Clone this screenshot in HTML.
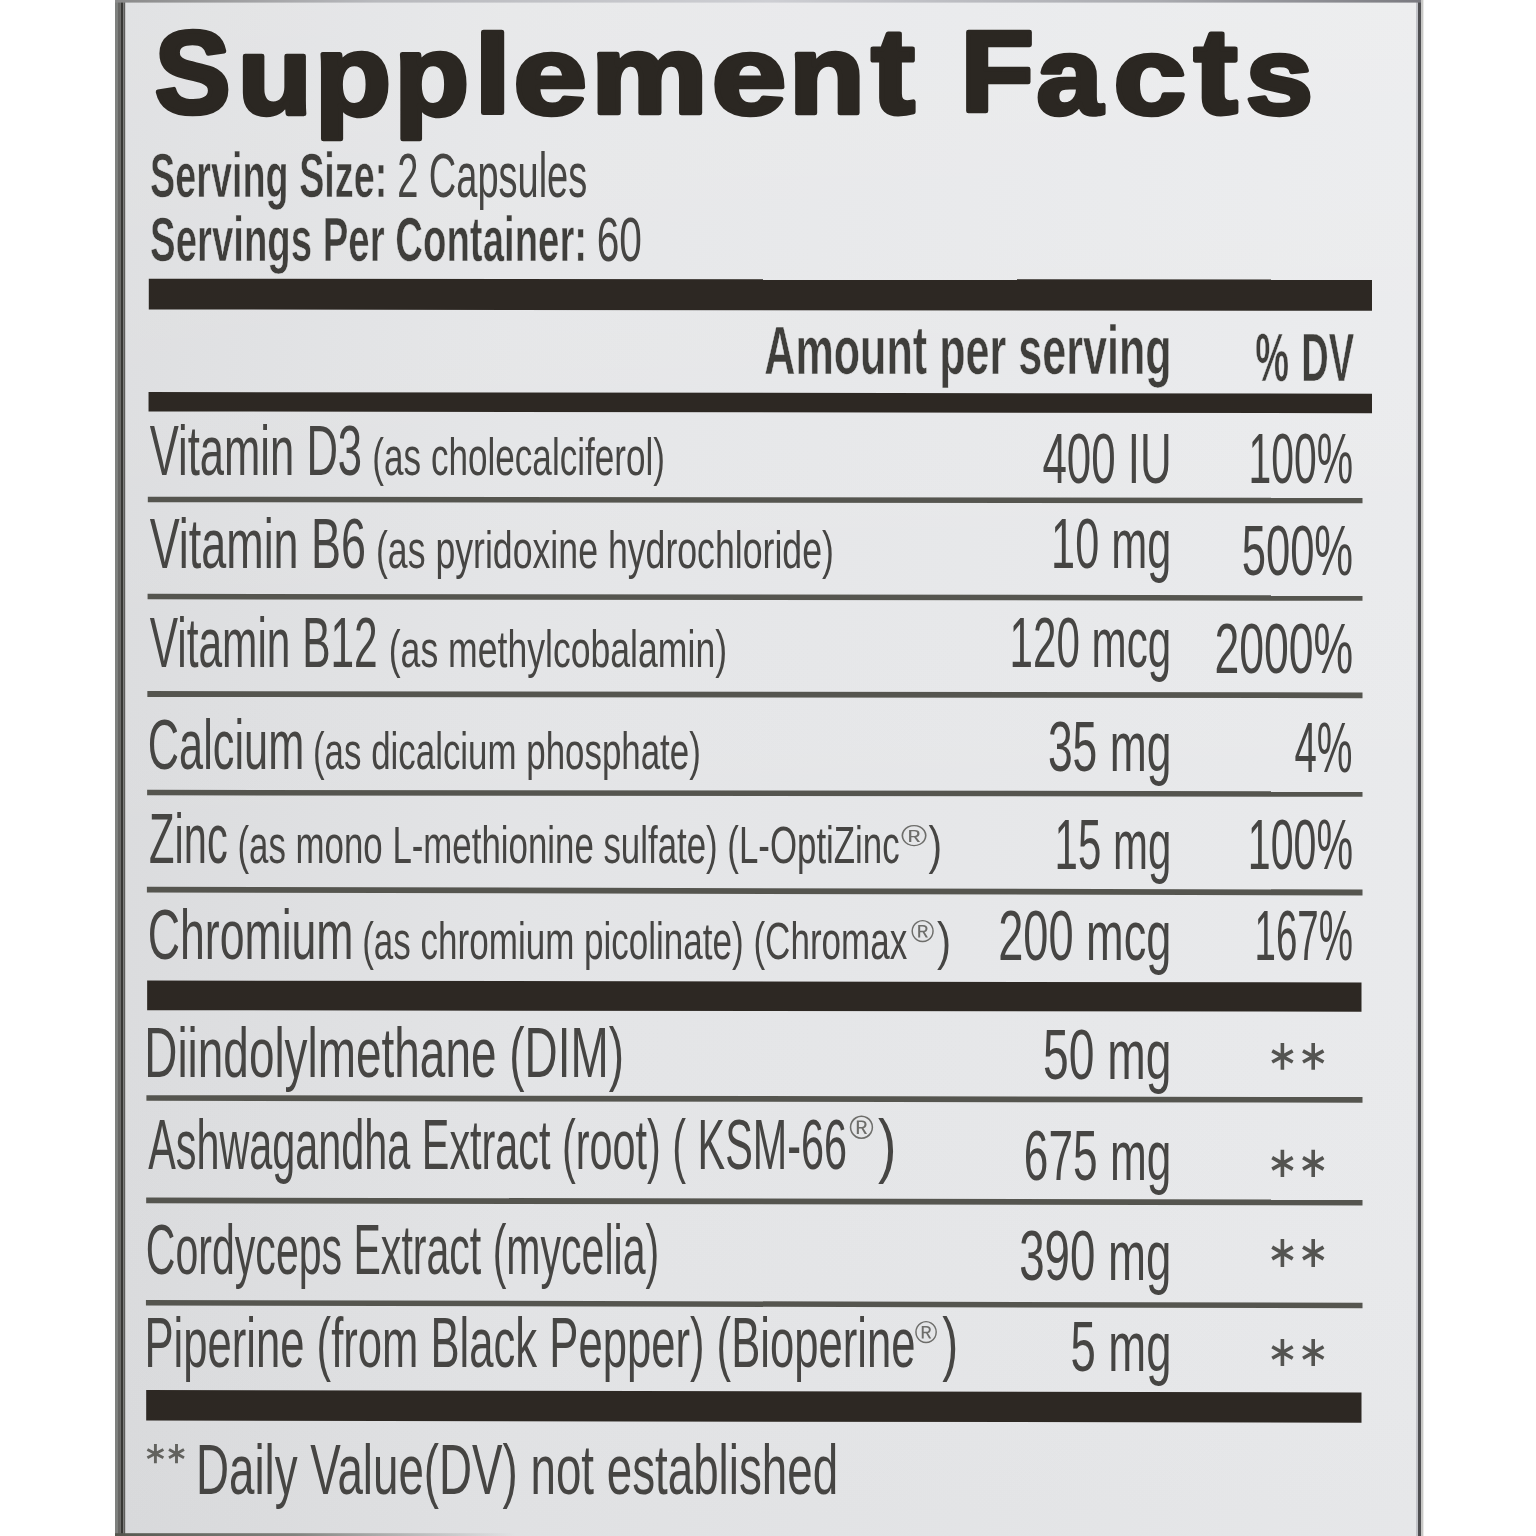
<!DOCTYPE html>
<html><head><meta charset="utf-8"><title>Supplement Facts</title><style>html,body{margin:0;padding:0;background:#fff;width:1536px;height:1536px;overflow:hidden}svg{display:block;font-family:"Liberation Sans",sans-serif;filter:blur(0.45px)}</style></head><body>
<svg width="1536" height="1536" viewBox="0 0 1536 1536" font-family="Liberation Sans, sans-serif"><defs><linearGradient id="gh" x1="0" y1="0" x2="1" y2="0"><stop offset="0" stop-color="#dbdcde"/><stop offset="0.3" stop-color="#e3e4e6"/><stop offset="1" stop-color="#e9eaec"/></linearGradient><linearGradient id="gv" x1="0" y1="0" x2="0" y2="1"><stop offset="0" stop-color="#fff" stop-opacity="0.18"/><stop offset="0.4" stop-color="#fff" stop-opacity="0.04"/><stop offset="0.6" stop-color="#fff" stop-opacity="0.0"/><stop offset="1" stop-color="#000" stop-opacity="0.014"/></linearGradient></defs><rect x="125" y="0" width="1293" height="1536" fill="url(#gh)"/><rect x="125" y="0" width="1293" height="1536" fill="url(#gv)"/><rect x="115" y="0" width="3" height="1536" fill="#7e807e"/><rect x="118" y="0" width="2.4" height="1536" fill="#666664"/><rect x="120.4" y="0" width="3" height="1536" fill="#383835"/><rect x="123.4" y="0" width="1.8" height="1536" fill="#5e5e5c"/><rect x="1416" y="0" width="2" height="1536" fill="#c2c3c8"/><rect x="1418" y="0" width="3" height="1536" fill="#4f4f52"/><rect x="1421" y="0" width="2.4" height="1536" fill="#c8c8c6"/><linearGradient id="gt" x1="0" y1="0" x2="1" y2="0"><stop offset="0" stop-color="#8a8a8a"/><stop offset="0.2" stop-color="#b8b9bd"/><stop offset="0.5" stop-color="#cdced3"/><stop offset="0.8" stop-color="#a9aaaf"/><stop offset="1" stop-color="#7a7a80"/></linearGradient><rect x="115" y="0" width="1306" height="2.6" fill="url(#gt)"/><linearGradient id="gb" x1="0" y1="0" x2="1" y2="0"><stop offset="0" stop-color="#55574f" stop-opacity="1"/><stop offset="0.45" stop-color="#6a6c66" stop-opacity="0.8"/><stop offset="1" stop-color="#888" stop-opacity="0"/></linearGradient><rect x="115" y="1533.2" width="400" height="2.8" fill="url(#gb)"/><path d="M148.79 278.80L1372.00 279.50L1372.00 310.80L148.79 309.50Z" fill="#2d2823"/><path d="M148.54 392.00L1372.00 393.70L1372.00 413.20L148.54 411.40Z" fill="#2d2823"/><path d="M147.15 980.50L1361.50 982.50L1361.50 1011.70L147.15 1010.20Z" fill="#2d2823"/><path d="M146.19 1389.90L1361.50 1392.50L1361.50 1422.70L146.19 1420.60Z" fill="#2d2823"/><path d="M147.81 496.65L1362.50 497.75L1362.50 503.25L147.81 502.15Z" fill="#55554f"/><path d="M147.58 593.75L1362.50 595.25L1362.50 600.75L147.58 599.25Z" fill="#55554f"/><path d="M147.35 691.10L1362.50 692.40L1362.50 698.20L147.35 696.90Z" fill="#55554f"/><path d="M147.12 789.75L1362.50 791.25L1362.50 796.75L147.12 795.25Z" fill="#55554f"/><path d="M146.90 886.70L1362.50 889.60L1362.50 895.40L146.90 892.50Z" fill="#55554f"/><path d="M146.41 1095.15L1362.50 1097.05L1362.50 1102.75L146.41 1100.85Z" fill="#55554f"/><path d="M146.17 1197.50L1362.50 1199.60L1362.50 1205.40L146.17 1203.30Z" fill="#55554f"/><path d="M145.93 1300.00L1362.50 1302.70L1362.50 1308.20L145.93 1305.50Z" fill="#55554f"/><path d="M1282.4 1043.0V1069.8M1272.2 1050.8L1292.7 1062.0M1272.2 1062.0L1292.7 1050.8" stroke="#545451" stroke-width="3.6" fill="none"/><path d="M1313.2 1043.0V1069.8M1303.0 1050.8L1323.5 1062.0M1303.0 1062.0L1323.5 1050.8" stroke="#545451" stroke-width="3.6" fill="none"/><path d="M1282.4 1149.7V1177.0M1272.2 1157.6L1292.7 1169.1M1272.2 1169.1L1292.7 1157.6" stroke="#545451" stroke-width="3.6" fill="none"/><path d="M1313.2 1149.7V1177.0M1303.0 1157.6L1323.5 1169.1M1303.0 1169.1L1323.5 1157.6" stroke="#545451" stroke-width="3.6" fill="none"/><path d="M1282.4 1239.0V1267.0M1272.2 1247.1L1292.7 1258.9M1272.2 1258.9L1292.7 1247.1" stroke="#545451" stroke-width="3.6" fill="none"/><path d="M1313.2 1239.0V1267.0M1303.0 1247.1L1323.5 1258.9M1303.0 1258.9L1323.5 1247.1" stroke="#545451" stroke-width="3.6" fill="none"/><path d="M1282.4 1339.0V1366.0M1272.2 1346.8L1292.7 1358.2M1272.2 1358.2L1292.7 1346.8" stroke="#545451" stroke-width="3.6" fill="none"/><path d="M1313.2 1339.0V1366.0M1303.0 1346.8L1323.5 1358.2M1303.0 1358.2L1323.5 1346.8" stroke="#545451" stroke-width="3.6" fill="none"/><path d="M155.4 1443.9V1463.2M147.4 1449.5L163.4 1457.7M147.4 1457.7L163.4 1449.5" stroke="#62625e" stroke-width="2.9" fill="none"/><path d="M176.5 1443.9V1463.2M169.0 1449.5L184.0 1457.7M169.0 1457.7L184.0 1449.5" stroke="#62625e" stroke-width="2.9" fill="none"/><text transform="translate(154.65 113.49) scale(0.9468 0.9711)" font-size="120" font-weight="700" fill="#2b2722" stroke="#2b2722" stroke-width="4.8" stroke-linejoin="round">S</text><text transform="translate(237.84 113.67) scale(1.0127 0.9116)" font-size="120" font-weight="700" fill="#2b2722" stroke="#2b2722" stroke-width="4.8" stroke-linejoin="round">u</text><text transform="translate(314.75 115.30) scale(1.0415 0.9522)" font-size="120" font-weight="700" fill="#2b2722" stroke="#2b2722" stroke-width="4.8" stroke-linejoin="round">p</text><text transform="translate(394.27 115.30) scale(1.0215 0.9522)" font-size="120" font-weight="700" fill="#2b2722" stroke="#2b2722" stroke-width="4.8" stroke-linejoin="round">p</text><text transform="translate(474.56 113.45) scale(1.0905 0.9272)" font-size="120" font-weight="700" fill="#2b2722" stroke="#2b2722" stroke-width="4.8" stroke-linejoin="round">l</text><text transform="translate(513.40 113.61) scale(1.1016 0.9307)" font-size="120" font-weight="700" fill="#2b2722" stroke="#2b2722" stroke-width="4.8" stroke-linejoin="round">e</text><text transform="translate(590.94 113.44) scale(1.0938 0.9283)" font-size="120" font-weight="700" fill="#2b2722" stroke="#2b2722" stroke-width="4.8" stroke-linejoin="round">m</text><text transform="translate(711.77 113.61) scale(1.1175 0.9307)" font-size="120" font-weight="700" fill="#2b2722" stroke="#2b2722" stroke-width="4.8" stroke-linejoin="round">e</text><text transform="translate(789.10 113.44) scale(1.0339 0.9283)" font-size="120" font-weight="700" fill="#2b2722" stroke="#2b2722" stroke-width="4.8" stroke-linejoin="round">n</text><text transform="translate(871.38 113.38) scale(1.0786 1.0060)" font-size="120" font-weight="700" fill="#2b2722" stroke="#2b2722" stroke-width="4.8" stroke-linejoin="round">t</text><text transform="translate(960.49 111.43) scale(1.0015 0.9580)" font-size="120" font-weight="700" fill="#2b2722" stroke="#2b2722" stroke-width="4.8" stroke-linejoin="round">F</text><text transform="translate(1036.61 113.66) scale(0.9884 0.9129)" font-size="120" font-weight="700" fill="#2b2722" stroke="#2b2722" stroke-width="4.8" stroke-linejoin="round">a</text><text transform="translate(1113.53 113.66) scale(1.0875 0.9129)" font-size="120" font-weight="700" fill="#2b2722" stroke="#2b2722" stroke-width="4.8" stroke-linejoin="round">c</text><text transform="translate(1194.09 113.38) scale(1.0857 1.0083)" font-size="120" font-weight="700" fill="#2b2722" stroke="#2b2722" stroke-width="4.8" stroke-linejoin="round">t</text><text transform="translate(1245.78 113.66) scale(1.0081 0.9129)" font-size="120" font-weight="700" fill="#2b2722" stroke="#2b2722" stroke-width="4.8" stroke-linejoin="round">s</text><text transform="translate(150.09 197.20) scale(0.6036 1.0000)" font-size="62.6" font-weight="700" fill="#3f3e3b" stroke="#e6e7e9" stroke-width="0.5" vector-effect="non-scaling-stroke">Serving Size:</text><text transform="translate(397.18 197.20) scale(0.6071 1.0000)" font-size="62.6" fill="#464543">2 Capsules</text><text transform="translate(150.07 261.00) scale(0.6130 1.0000)" font-size="62.6" font-weight="700" fill="#3f3e3b" stroke="#e6e7e9" stroke-width="0.5" vector-effect="non-scaling-stroke">Servings Per Container:</text><text transform="translate(596.75 261.00) scale(0.6500 1.0000)" font-size="62.6" fill="#464543">60</text><text transform="translate(764.24 373.80) scale(0.6318 1.0000)" font-size="68.3" font-weight="700" fill="#3f3e3b" stroke="#e6e7e9" stroke-width="0.5" vector-effect="non-scaling-stroke">Amount per serving</text><text transform="translate(1255.19 380.80) scale(0.5561 1.0000)" font-size="68.3" font-weight="700" fill="#3f3e3b" stroke="#e6e7e9" stroke-width="0.5" vector-effect="non-scaling-stroke">%</text><text transform="translate(1301.21 380.60) scale(0.5573 1.0000)" font-size="68.3" font-weight="700" fill="#3f3e3b" stroke="#e6e7e9" stroke-width="0.5" vector-effect="non-scaling-stroke">DV</text><text transform="translate(149.68 475.10) scale(0.6231 1.0000)" font-size="70" fill="#464543">Vitamin D3</text><text transform="translate(372.37 475.10) scale(0.6752 1.0000)" font-size="52" fill="#464543">(as cholecalciferol)</text><text transform="translate(1042.45 482.50) scale(0.6271 1.0000)" font-size="70" fill="#464543">400 IU</text><text transform="translate(1248.48 482.50) scale(0.5842 1.0000)" font-size="70" fill="#464543">100%</text><text transform="translate(149.66 567.50) scale(0.6417 1.0000)" font-size="70" fill="#464543">Vitamin B6</text><text transform="translate(375.94 567.50) scale(0.6861 1.0000)" font-size="52" fill="#464543">(as pyridoxine hydrochloride)</text><text transform="translate(1051.11 568.00) scale(0.6178 1.0000)" font-size="70" fill="#464543">10 mg</text><text transform="translate(1241.63 575.00) scale(0.6231 1.0000)" font-size="70" fill="#464543">500%</text><text transform="translate(149.69 666.70) scale(0.6062 1.0000)" font-size="70" fill="#464543">Vitamin B12</text><text transform="translate(388.75 666.70) scale(0.6848 1.0000)" font-size="52" fill="#464543">(as methylcobalamin)</text><text transform="translate(1009.59 667.40) scale(0.6019 1.0000)" font-size="70" fill="#464543">120 mcg</text><text transform="translate(1214.45 672.60) scale(0.6365 1.0000)" font-size="70" fill="#464543">2000%</text><text transform="translate(147.82 768.75) scale(0.6189 1.0000)" font-size="70" fill="#464543">Calcium</text><text transform="translate(312.99 768.75) scale(0.6712 1.0000)" font-size="52" fill="#464543">(as dicalcium phosphate)</text><text transform="translate(1047.90 770.80) scale(0.6348 1.0000)" font-size="70" fill="#464543">35 mg</text><text transform="translate(1294.45 772.40) scale(0.5742 1.0000)" font-size="70" fill="#464543">4%</text><text transform="translate(149.11 863.30) scale(0.5945 1.0000)" font-size="70" fill="#464543">Zinc</text><text transform="translate(237.49 863.30) scale(0.6701 1.0000)" font-size="52" fill="#464543">(as mono L-methionine sulfate) (L-OptiZinc</text><text transform="translate(1054.60 868.75) scale(0.5995 1.0000)" font-size="70" fill="#464543">15 mg</text><text transform="translate(1247.86 869.00) scale(0.5877 1.0000)" font-size="70" fill="#464543">100%</text><text transform="translate(147.75 959.40) scale(0.6376 1.0000)" font-size="70" fill="#464543">Chromium</text><text transform="translate(362.18 959.40) scale(0.6737 1.0000)" font-size="52" fill="#464543">(as chromium picolinate) (Chromax</text><text transform="translate(998.22 960.40) scale(0.6450 1.0000)" font-size="70" fill="#464543">200 mcg</text><text transform="translate(1254.55 960.40) scale(0.5497 1.0000)" font-size="70" fill="#464543">167%</text><text transform="translate(901.11 846.40) scale(0.8857 0.7586)" font-size="40" fill="#6d6d6a">®</text><text transform="translate(928.52 863.30) scale(0.7846 1.0000)" font-size="52" fill="#464543">)</text><text transform="translate(910.91 941.50) scale(0.7893 0.7655)" font-size="40" fill="#6d6d6a">®</text><text transform="translate(936.88 959.40) scale(0.8154 1.0000)" font-size="52" fill="#464543">)</text><text transform="translate(144.26 1076.60) scale(0.6560 1.0000)" font-size="70" fill="#464543">Diindolylmethane (DIM)</text><text transform="translate(1043.12 1079.40) scale(0.6599 1.0000)" font-size="70" fill="#464543">50 mg</text><text transform="translate(148.20 1168.75) scale(0.5909 1.0000)" font-size="70" fill="#464543">Ashwagandha Extract (root) ( KSM-66</text><text transform="translate(1023.87 1179.70) scale(0.6316 1.0000)" font-size="70" fill="#464543">675 mg</text><text transform="translate(145.85 1274.00) scale(0.5866 1.0000)" font-size="70" fill="#464543">Cordyceps Extract (mycelia)</text><text transform="translate(1019.14 1280.00) scale(0.6522 1.0000)" font-size="70" fill="#464543">390 mg</text><text transform="translate(144.46 1366.80) scale(0.6233 1.0000)" font-size="70" fill="#464543">Piperine (from Black Pepper) (Bioperine</text><text transform="translate(1070.45 1370.60) scale(0.6493 1.0000)" font-size="70" fill="#464543">5 mg</text><text transform="translate(849.17 1138.80) scale(0.8286 0.8414)" font-size="40" fill="#6d6d6a">®</text><text transform="translate(878.01 1168.75) scale(0.7944 1.0000)" font-size="70" fill="#464543">)</text><text transform="translate(914.83 1343.20) scale(0.7679 0.7655)" font-size="40" fill="#6d6d6a">®</text><text transform="translate(942.32 1366.80) scale(0.6833 1.0000)" font-size="70" fill="#464543">)</text><text transform="translate(195.98 1494.00) scale(0.6533 1.0000)" font-size="70" fill="#464543">Daily Value(DV) not established</text></svg>
</body></html>
